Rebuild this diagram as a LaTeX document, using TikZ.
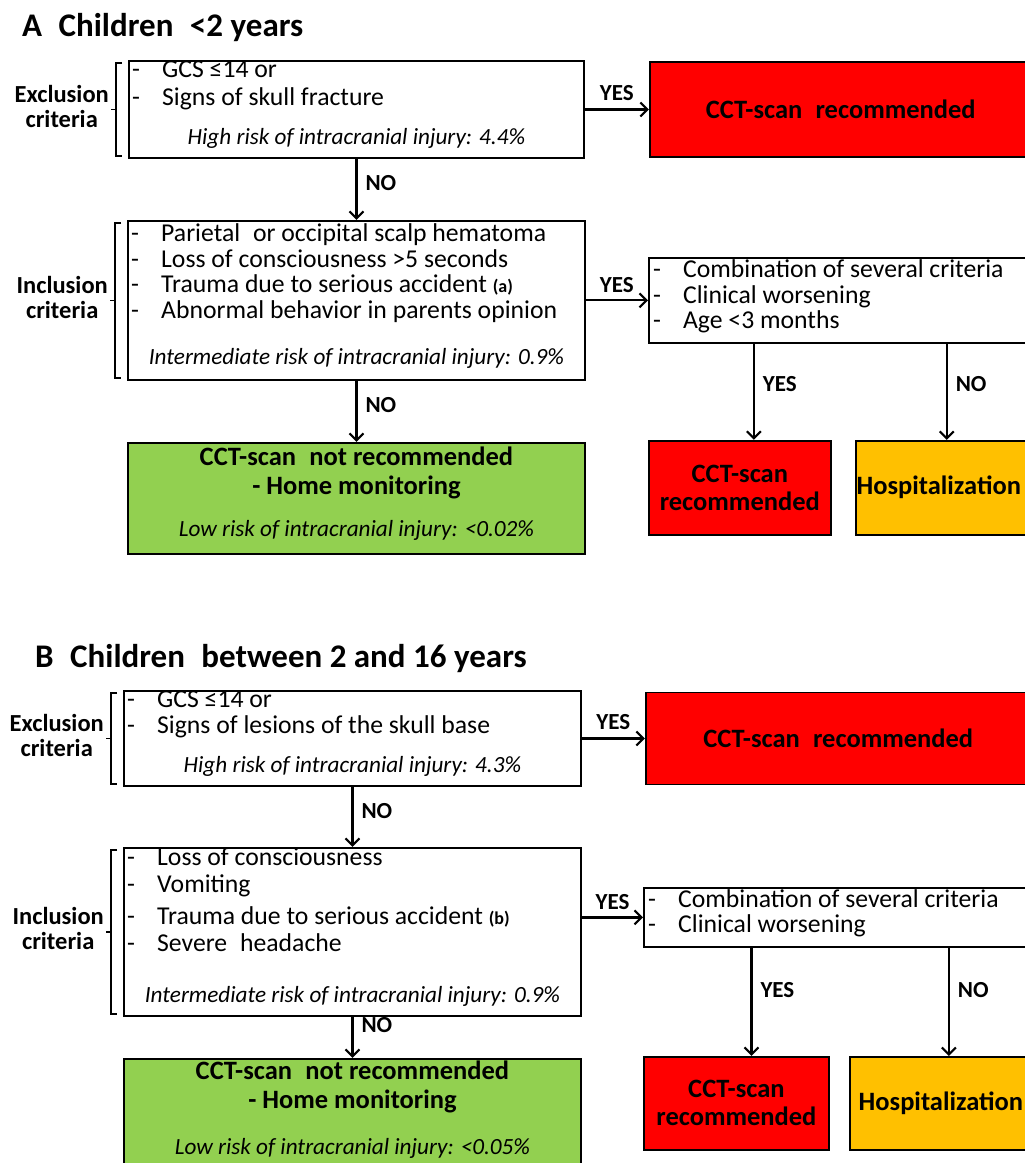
\documentclass[tikz,border=0pt]{standalone}
\usepackage{fontspec}
\setmainfont{Carlito}
\usetikzlibrary{positioning,calc,arrows.meta}

\definecolor{scanred}{RGB}{255,0,0}
\definecolor{homegreen}{RGB}{146,208,80}
\definecolor{hospamber}{RGB}{255,192,0}

\newcommand{\itm}[1]{\makebox[30pt][l]{-}#1}
\newcommand{\fnote}[1]{{\bfseries\fontsize{18}{20}\selectfont #1}}

\begin{document}
\begin{tikzpicture}[x=1pt, y=-1pt,
      box/.style = {draw, line width=1.9pt, inner sep=0pt, anchor=north west},
      critbox/.style = {box, fill=white},
      scanbox/.style = {box, fill=scanred, align=center,
         font=\bfseries\fontsize{26.5}{28}\selectfont},
      hospbox/.style = {box, fill=hospamber, font=\bfseries\fontsize{26.5}{28}\selectfont},
      homebox/.style = {box, fill=homegreen},
      items/.style = {inner sep=0pt, align=left, font=\fontsize{25.7}{25.5}\selectfont},
      risk/.style = {inner sep=0pt, font=\itshape\fontsize{23.2}{24}\selectfont},
      advice/.style = {inner sep=0pt, align=center, font=\bfseries\fontsize{26.5}{29}\selectfont},
      side/.style = {inner sep=0pt, align=center, font=\bfseries\fontsize{24.5}{25}\selectfont},
      answer/.style = {inner sep=0pt, font=\bfseries\fontsize{23}{24}\selectfont},
      title/.style = {inner sep=0pt, anchor=base west, font=\bfseries\fontsize{33}{34}\selectfont},
      flow/.style = {line width=2.1pt, -{Straight Barb[length=7pt, width=14pt]}},
      brk/.style = {line width=1.6pt}
]
   \clip (0,0) rectangle (1025,1163);

   % A: children under 2 years
   \node[title] (titA) at (22,36) {A\enspace Children\enspace <2 years};

   \node[critbox, minimum width=455pt, minimum height=97pt] (exclA) at (128,60) {};
   \node[items, below right=1pt and 4pt of exclA.north west] (exclAtxt)
      {\itm{GCS ≤14 or}\\[2pt] \itm{Signs of skull fracture}};
   \node[risk, above=10pt of exclA.south] (exclArisk) {High risk of intracranial injury: 4.4\%};

   \node[scanbox, minimum width=382pt, minimum height=95pt, right=64pt of exclA] (redA)
      {CCT-scan\enspace recommended};

   \node[critbox, minimum width=457pt, minimum height=159pt, below=61pt of exclA] (inclA) {};
   \node[items, below right=4pt and 4pt of inclA.north west] (inclAtxt)
      {\itm{Parietal\enspace or occipital scalp hematoma}\\
       \itm{Loss of consciousness >5 seconds}\\
       \itm{Trauma due to serious accident \fnote{(a)}}\\
       \itm{Abnormal behavior in parents opinion}};
   \node[risk, above=12pt of inclA.south] (inclArisk)
      {Intermediate risk of intracranial injury: 0.9\%};

   \node[critbox, minimum width=385pt, minimum height=85pt, right=62pt of inclA] (critA) {};
   \node[items, below right=3pt and 5pt of critA.north west] (critAtxt)
      {\itm{Combination of several criteria}\\
       \itm{Clinical worsening}\\
       \itm{Age <3 months}};

   \node[scanbox, minimum width=182pt, minimum height=94pt,
         below=96pt of critA.south west, anchor=north west] (scanA) {CCT-scan\\recommended};
   \node[hospbox, minimum width=182pt, minimum height=94pt, right=23pt of scanA] (hospA)
      {\hspace*{-16pt}Hospitalization};

   \node[homebox, minimum width=457pt, minimum height=111pt, below=61pt of inclA] (homeA) {};
   \node[advice, below=5pt of homeA.north] (homeAtxt)
      {CCT-scan\enspace not recommended\\- Home monitoring};
   \node[risk, above=14pt of homeA.south] (homeArisk) {Low risk of intracranial injury: <0.02\%};

   \coordinate (yesA) at ($(scanA.north)+(14,0)$);

   \draw[flow] (exclA) -- node[answer, above=8pt] {YES} (redA);
   \draw[flow] (exclA) -- node[answer, right=8pt, yshift=6pt] {NO} (inclA);
   \draw[flow] (inclA) -- node[answer, above=7pt] {YES} (critA);
   \draw[flow] (inclA) -- node[answer, right=8pt, yshift=6pt] {NO} (homeA);
   \draw[flow] (critA.south -| yesA) -- node[answer, right=8pt, yshift=8pt] {YES} (yesA);
   \draw[flow] (critA.south -| hospA) -- node[answer, right=8pt, yshift=8pt] {NO} (hospA);

   % B: children between 2 and 16 years
   \node[title] (titB) at (35,667) {B\enspace Children\enspace between 2 and 16 years};

   \node[critbox, minimum width=457pt, minimum height=95pt] (exclB) at (123,690) {};
   \node[items, below right=1pt and 4pt of exclB.north west] (exclBtxt)
      {\itm{GCS ≤14 or}\\ \itm{Signs of lesions of the skull base}};
   \node[risk, above=10pt of exclB.south] (exclBrisk) {High risk of intracranial injury: 4.3\%};

   \node[scanbox, minimum width=385pt, minimum height=92pt, right=63pt of exclB] (redB)
      {CCT-scan\enspace recommended};

   \node[critbox, minimum width=457pt, minimum height=168pt, below=60pt of exclB] (inclB) {};
   \node[items, below right=1pt and 4pt of inclB.north west] (inclBtxt)
      {\itm{Loss of consciousness}\\[1pt]
       \itm{Vomiting}\\[7pt]
       \itm{Trauma due to serious accident \fnote{(b)}}\\[1pt]
       \itm{Severe\enspace headache}};
   \node[risk, above=10pt of inclB.south] (inclBrisk)
      {Intermediate risk of intracranial injury: 0.9\%};

   \node[critbox, minimum width=390pt, minimum height=59pt] (critB) at (643,887) {};
   \node[items, below right=2pt and 5pt of critB.north west] (critBtxt)
      {\itm{Combination of several criteria}\\
       \itm{Clinical worsening}};

   \node[scanbox, minimum width=185pt, minimum height=93pt,
         below=108pt of critB.south west, anchor=north west] (scanB) {CCT-scan\\recommended};
   \node[hospbox, minimum width=182pt, minimum height=93pt, right=19pt of scanB] (hospB)
      {Hospitalization};

   \node[homebox, minimum width=457pt, minimum height=125pt, below=41pt of inclB] (homeB) {};
   \node[advice, below=3pt of homeB.north] (homeBtxt)
      {CCT-scan\enspace not recommended\\- Home monitoring};
   \node[risk, below=80pt of homeB.north] (homeBrisk) {Low risk of intracranial injury: <0.05\%};

   \coordinate (yesB) at ($(scanB.north)+(15,0)$);
   \coordinate (noB) at ($(hospB.north)+(8,0)$);

   \draw[flow] (exclB) -- node[answer, above=8pt] {YES} (redB);
   \draw[flow] (exclB) -- node[answer, right=8pt, yshift=6pt] {NO} (inclB);
   \draw[flow] (inclB.east |- critB.west) -- node[answer, above=7pt] {YES} (critB.west);
   \draw[flow] (inclB) -- node[answer, right=8pt, pos=0.2] {NO} (homeB);
   \draw[flow] (critB.south -| yesB) -- node[answer, right=8pt, yshift=12pt] {YES} (yesB);
   \draw[flow] (critB.south -| noB) -- node[answer, right=8pt, yshift=12pt] {NO} (noB);

   % brackets with side labels
   \foreach \b/\lbl in {exclA/Exclusion, inclA/Inclusion, exclB/Exclusion, inclB/Inclusion}{
      \draw[brk] ($(\b.north west)+(-6,3)$) -- ++(-6,0) coordinate (top\b)
         -- ($(\b.south west)+(-12,-3)$) -- ++(6,0);
      \draw[brk] ($(\b.west)+(-12,0)$) -- ++(-5,0) coordinate (tick\b);
      \node[side, left=2pt of tick\b, yshift=3pt] (lbl\b) {\lbl\\criteria};
   }
\end{tikzpicture}
\end{document}
